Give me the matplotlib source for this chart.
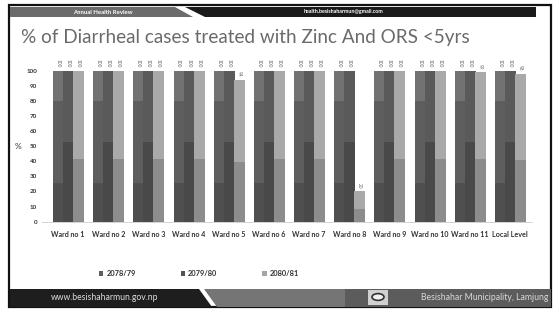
import numpy as np
import matplotlib
matplotlib.use("Agg")
import matplotlib.pyplot as plt
from matplotlib.patches import Polygon, Rectangle, Circle

plt.rcParams['font.family'] = ['Lato', 'DejaVu Sans']

wards = ['Ward no 1', 'Ward no 2', 'Ward no 3', 'Ward no 4', 'Ward no 5', 'Ward no 6',
         'Ward no 7', 'Ward no 8', 'Ward no 9', 'Ward no 10', 'Ward no 11', 'Local Level']
y2078 = [100, 100, 100, 100, 100, 100, 100, 100, 100, 100, 100, 100]
y2079 = [100, 100, 100, 100, 100, 100, 100, 100, 100, 100, 100, 100]
y2080 = [100, 100, 100, 100, 94, 100, 100, 20, 100, 100, 99, 98]
years = ['2078/79', '2079/80', '2080/81']

# banded shading like the original 3D-ish excel bars: (split points, colours)
shades = [([0.26, 0.80], ['#4f4f4f', '#5e5e5e', '#727272']),
          ([0.53], ['#494949', '#5a5a5a']),
          ([0.42], ['#8c8c8c', '#a9a9a9'])]

W, H = 555, 312
fig = plt.figure(figsize=(W / 100, H / 100), dpi=100)

# slide frame
fig.patches.append(Rectangle((9 / W, 1 - 307 / H), 542 / W, 302 / H, transform=fig.transFigure,
                             fill=False, ec='#111111', lw=1.6, zorder=0))
# header strip
fig.patches.append(Polygon([(10 / W, 1 - 7 / H), (175 / W, 1 - 7 / H), (193 / W, 1 - 17 / H), (10 / W, 1 - 17 / H)],
                           closed=True, transform=fig.transFigure, fc='#6b6b6b', ec='none'))
fig.patches.append(Polygon([(185 / W, 1 - 7 / H), (536 / W, 1 - 7 / H), (536 / W, 1 - 17 / H), (205 / W, 1 - 17 / H)],
                           closed=True, transform=fig.transFigure, fc='#1a1a1a', ec='none'))
fig.text(103 / W, 1 - 12 / H, 'Annual Health Review', color='white', fontsize=4.3, fontweight='bold',
         ha='center', va='center')
fig.text(343 / W, 1 - 12 / H, 'health.besishaharmun@gmail.com', color='white', fontsize=3.8,
         fontweight='bold', ha='center', va='center')

# title
fig.text(21 / W, 1 - 37 / H, '% of Diarrheal cases treated with Zinc And ORS <5yrs', color='#6a6a6a',
         fontsize=13.6, ha='left', va='center')

# footer
fig.patches.append(Polygon([(10 / W, 1 - 289 / H), (199 / W, 1 - 289 / H), (212 / W, 1 - 307 / H), (10 / W, 1 - 307 / H)],
                           closed=True, transform=fig.transFigure, fc='#1e1e1e', ec='none'))
fig.patches.append(Polygon([(204 / W, 1 - 289 / H), (345 / W, 1 - 289 / H), (345 / W, 1 - 307 / H), (217 / W, 1 - 307 / H)],
                           closed=True, transform=fig.transFigure, fc='#757575', ec='none'))
fig.patches.append(Rectangle((345 / W, 1 - 307 / H), 206 / W, 18 / H, transform=fig.transFigure,
                             fc='#5c5c5c', ec='none'))
fig.patches.append(Rectangle((368 / W, 1 - 305 / H), 20 / W, 15 / H, transform=fig.transFigure,
                             fc='#d0d0d0', ec='none'))
fig.patches.append(Circle((378 / W, 1 - 297 / H), 6 / W, transform=fig.transFigure, fc='#f0f0f0', ec='#333333', lw=1.2))
fig.text(105 / W, 1 - 298 / H, 'www.besishaharmun.gov.np', color='#dddddd', fontsize=6.2, ha='center', va='center')
fig.text(548 / W, 1 - 298 / H, 'Besishahar Municipality, Lamjung', color='#d8d8d8', fontsize=6.2,
         ha='right', va='center')

# chart
ax = fig.add_axes([42 / W, 1 - 221.7 / H, 490 / W, 151 / H])
x = np.arange(len(wards))
bw = 0.25
series = [y2078, y2079, y2080]
base_cols = ['#5e5e5e', '#525252', '#9a9a9a']
for i, vals in enumerate(series):
    bc = ax.bar(x + (i - 1) * bw, vals, bw, color=base_cols[i], ec='#c8c8c8', lw=0.4, label=years[i], zorder=2)
    splits, cols = shades[i]
    t = np.linspace(0, 1, 200)
    idx = np.searchsorted(splits, t)
    rgb = np.array([matplotlib.colors.to_rgb(cols[k]) for k in idx])[::-1].reshape(200, 1, 3)
    for p, v in zip(bc.patches, vals):
        x0, w = p.get_x(), p.get_width()
        ax.imshow(rgb, extent=(x0, x0 + w, 0, v), aspect='auto', zorder=2.5, interpolation='nearest')
        ax.text(x0 + w / 2, v + 2, str(v), rotation=-90, ha='center', va='bottom', fontsize=3.4,
                color='#666666', clip_on=False)

ax.set_xlim(-0.649, 11.549)
ax.set_ylim(0, 100)
ax.set_yticks(range(0, 101, 10))
ax.set_xticks(x)
ax.set_xticklabels(wards, fontsize=5.1, fontweight='bold', color='#333333')
ax.tick_params(axis='y', length=0, labelsize=4.5, labelcolor='#333333', pad=3.5)
ax.tick_params(axis='x', length=0, pad=7)
for lab in ax.get_yticklabels():
    lab.set_fontweight('bold')
for s in ['top', 'right', 'left']:
    ax.spines[s].set_visible(False)
ax.spines['bottom'].set_color('#cccccc')
ax.spines['bottom'].set_linewidth(0.6)
ax.set_ylabel('%', rotation=0, fontsize=6, color='#333333', labelpad=6, va='center')

handles = [Rectangle((0, 0), 1, 1, fc=c) for c in ['#5e5e5e', '#525252', '#a5a5a5']]
leg = fig.legend(handles, years, loc='center', bbox_to_anchor=(199 / W, 1 - 274 / H), ncol=3, frameon=False,
                 handlelength=0.6, handleheight=0.6, handletextpad=0.4, columnspacing=6,
                 prop={'size': 5.4, 'weight': 'bold'})
for t in leg.get_texts():
    t.set_color('#333333')

fig.savefig('out.png', dpi=100)
